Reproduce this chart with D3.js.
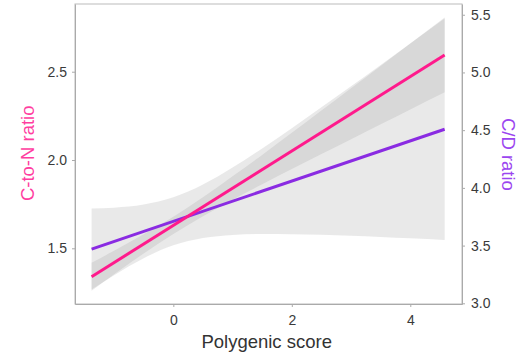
<!DOCTYPE html>
<html lang="en">
<head>
<meta charset="UTF-8">
<title>Polygenic score vs C-to-N and C/D ratio</title>
<script src="https://d3js.org/d3.v7.min.js"></script>
<style>
body {
  margin: 0;
  background: white;
  font-family: "Liberation Sans", Arial, Helvetica, sans-serif;
}

/* axis text */
.axis text {
  font-size: 14px;
  fill: #3a3a3a;
  font-family: "Liberation Sans", Arial, sans-serif;
}
.axis line, .axis path {
  stroke: #aaa;
}

.band {
  fill: #999;
  fill-opacity: 0.22;
  stroke: none;
}

.title {
  font-size: 18.5px;
}
</style>
</head>
<body>
<div id="chart"></div>

<script>

// fitted lines (x ends) - C-to-N on left axis, C/D on right axis
var lineX   = [-1.38, 4.58];
var cnRatio = [1.339, 2.595];
var cdRatio = [3.470, 4.508];

// confidence bands
var bandX   = [-1.38, -1, -0.5, 0, 0.5, 1, 1.5, 2, 2.5, 3, 3.5, 4, 4.58];
var cnLower = [1.260, 1.353, 1.471, 1.581, 1.681, 1.775, 1.863, 1.949, 2.034, 2.118, 2.202, 2.286, 2.383];
var cnUpper = [1.418, 1.486, 1.579, 1.679, 1.789, 1.908, 2.029, 2.154, 2.280, 2.406, 2.532, 2.660, 2.807];
var cdLower = [3.119, 3.244, 3.391, 3.502, 3.565, 3.592, 3.600, 3.599, 3.594, 3.585, 3.575, 3.563, 3.549];
var cdUpper = [3.821, 3.828, 3.855, 3.918, 4.029, 4.176, 4.342, 4.517, 4.698, 4.881, 5.065, 5.251, 5.467];

// ticks
var xTicks  = [0, 2, 4];
var yLTicks = [1.5, 2.0, 2.5];
var yRTicks = [3.0, 3.5, 4.0, 4.5, 5.0, 5.5];

var pink = "#ff1a8c",
    purple = "#8a2be2";

var margin = {top: 4, right: 66, bottom: 52, left: 75},
    width = 528 - margin.left - margin.right,
    height = 356 - margin.top - margin.bottom;

var svg = d3.select("#chart")
    .append("svg")
    .attr("width", 528)
    .attr("height", 356)
  .append("g")
    .attr("transform", "translate(" + margin.left + "," + margin.top + ")");

var x = d3.scaleLinear().domain([-1.66, 4.873]).range([0, width]);
var yL = d3.scaleLinear().domain([1.1846, 2.8834]).range([height, 0]);
var yR = d3.scaleLinear().domain([2.994, 5.593]).range([height, 0]);

// bands
function band(lower, upper, y) {
  var pts = bandX.map(function(d, i) { return {x: d, lo: lower[i], hi: upper[i]}; });
  return d3.area()
    .curve(d3.curveMonotoneX)
    .x(function(d) { return x(d.x); })
    .y0(function(d) { return y(d.lo); })
    .y1(function(d) { return y(d.hi); })(pts);
}

svg.append("path").attr("class", "band").attr("d", band(cnLower, cnUpper, yL));
svg.append("path").attr("class", "band").attr("d", band(cdLower, cdUpper, yR));

// lines
function line(vals, y) {
  return d3.line()
    .x(function(d, i) { return x(lineX[i]); })
    .y(function(d) { return y(d); })(vals);
}

svg.append("path")
    .attr("d", line(cdRatio, yR))
    .attr("fill", "none")
    .attr("stroke", purple)
    .attr("stroke-width", 3);

svg.append("path")
    .attr("d", line(cnRatio, yL))
    .attr("fill", "none")
    .attr("stroke", pink)
    .attr("stroke-width", 3);

// panel border
svg.append("rect")
    .attr("width", width)
    .attr("height", height)
    .attr("fill", "none")
    .attr("stroke", "#bbb")
    .attr("stroke-width", 1);

// axes
svg.append("g")
    .attr("class", "axis")
    .call(d3.axisLeft(yL).tickValues(yLTicks).tickFormat(d3.format(".1f"))
      .tickSizeInner(3).tickSizeOuter(0).tickPadding(5));

svg.append("g")
    .attr("class", "axis")
    .attr("transform", "translate(" + width + ",0)")
    .call(d3.axisRight(yR).tickValues(yRTicks).tickFormat(d3.format(".1f"))
      .tickSizeInner(3).tickSizeOuter(0).tickPadding(6));

svg.append("g")
    .attr("class", "axis")
    .attr("transform", "translate(0," + height + ")")
    .call(d3.axisBottom(x).tickValues(xTicks).tickFormat(d3.format("d"))
      .tickSizeInner(3).tickSizeOuter(0).tickPadding(8));

// titles
svg.append("text")
    .attr("class", "title")
    .attr("x", 266.7 - margin.left)
    .attr("y", 347.5 - margin.top)
    .attr("text-anchor", "middle")
    .attr("fill", "#333")
    .text("Polygenic score");

svg.append("text")
    .attr("class", "title")
    .attr("transform", "translate(" + (34 - margin.left) + "," + (153.3 - margin.top) + ") rotate(-90)")
    .attr("text-anchor", "middle")
    .attr("fill", "#ff3da0")
    .text("C-to-N ratio");

svg.append("text")
    .attr("class", "title")
    .attr("transform", "translate(" + (502 - margin.left) + "," + (154.4 - margin.top) + ") rotate(90)")
    .attr("text-anchor", "middle")
    .attr("fill", "#9b45f0")
    .text("C/D ratio");

</script>
</body>
</html>
